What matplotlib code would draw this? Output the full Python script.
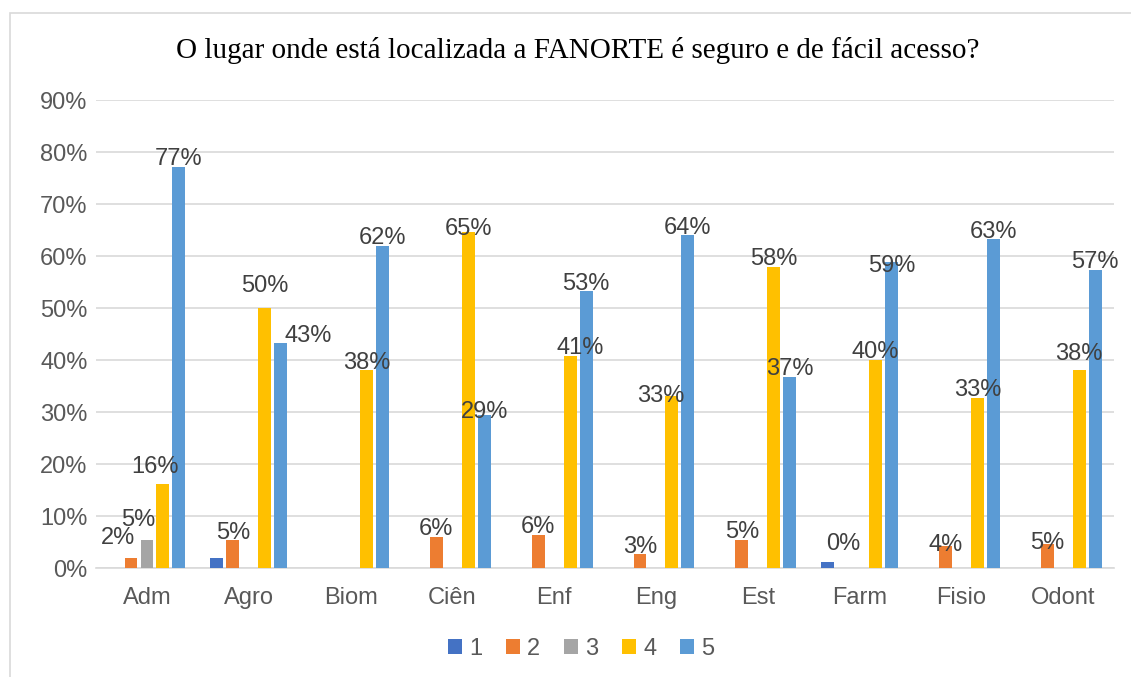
import matplotlib.pyplot as plt
from matplotlib.patches import Rectangle
import numpy as np

plt.rcParams['font.family'] = ['Liberation Sans', 'DejaVu Sans']

cursos = ["Adm", "Agro", "Biom", "Ciên", "Enf", "Eng", "Est", "Farm", "Fisio", "Odont"]
series = ["1", "2", "3", "4", "5"]

s1 = [0, 1.9, 0, 0, 0, 0, 0, 1.2, 0, 0]
s2 = [2.0, 5.3, 0, 6.0, 6.3, 2.6, 5.4, 0, 4.2, 4.7]
s3 = [5.4, 0, 0, 0, 0, 0, 0, 0, 0, 0]
s4 = [16.2, 50.0, 38.0, 64.7, 40.8, 33.1, 58.0, 40.0, 32.8, 38.0]
s5 = [77.1, 43.2, 62.0, 29.4, 53.2, 64.0, 36.8, 58.8, 63.2, 57.4]

# which bars carry a data label
lab1 = [0, 0, 0, 0, 0, 0, 0, 0, 0, 0]
lab2 = [1, 1, 0, 1, 1, 1, 1, 1, 1, 1]
lab3 = [1, 0, 0, 0, 0, 0, 0, 0, 0, 0]
lab4 = [1, 1, 1, 1, 1, 1, 1, 1, 1, 1]
lab5 = [1, 1, 1, 1, 1, 1, 1, 1, 1, 1]

valores = [s1, s2, s3, s4, s5]
rotulos = [lab1, lab2, lab3, lab4, lab5]
cores = ["#4472C4", "#ED7D31", "#A5A5A5", "#FFC000", "#5B9BD5"]

# label nudges (points, dx/dy) - the labels in the original were dragged by hand
nudge = {(0, 1): (-9, 8.5), (0, 2): (-6, 9), (0, 3): (-6, 6.5),
         (1, 3): (0, 10), (1, 4): (20, 0),
         (3, 3): (0, -3.5), (3, 4): (0, -3.5),
         (4, 3): (7, 0), (5, 3): (-8, -6),
         (7, 1): (0, 12), (7, 4): (0, -8.5),
         (8, 1): (0, -5), (9, 1): (0, -5), (9, 3): (0, 6)}

fig = plt.figure(figsize=(11.31, 6.77), dpi=100)
ax = fig.add_axes([0.0849, 0.161, 0.9001, 0.691])

fig.patches.append(Rectangle((10 / 1131, -0.1), 1.2, 1 - 13 / 677 + 0.1,
                             transform=fig.transFigure, fill=False,
                             edgecolor="#D9D9D9", linewidth=1.2, zorder=0))

x = np.arange(len(cursos))
passo = 0.157
larg = 0.126
for i, (vals, cor) in enumerate(zip(valores, cores)):
    pos = x + (i - 2) * passo
    ax.bar(pos, vals, width=larg, color=cor, label=series[i], zorder=3)
    for j, v in enumerate(vals):
        if rotulos[i][j]:
            ax.annotate(f"{v:.0f}%", (pos[j], v + 1.5), xytext=nudge.get((j, i), (0, 0)),
                        textcoords="offset points", ha="center", va="center",
                        fontsize=17, color="#404040", zorder=4)

ax.set_xlim(-0.5, len(cursos) - 0.5)
ax.set_ylim(0, 90)
ax.set_yticks(np.arange(0, 91, 10))
ax.set_yticklabels([f"{t}%" for t in range(0, 91, 10)])
ax.set_xticks(x)
ax.set_xticklabels(cursos)
ax.tick_params(axis="both", length=0, labelsize=17, labelcolor="#595959")
ax.tick_params(axis="x", pad=14)
ax.tick_params(axis="y", pad=6)
ax.yaxis.grid(True, color="#D9D9D9", linewidth=1.2, zorder=0)
for s in ["top", "right", "left"]:
    ax.spines[s].set_visible(False)
ax.spines["bottom"].set_color("#D9D9D9")
ax.spines["bottom"].set_linewidth(1.2)

fig.text(578 / 1131, 1 - 50 / 677, "O lugar onde está localizada a FANORTE é seguro e de fácil acesso?",
         ha="center", va="center", fontsize=21, family="Liberation Serif", color="#000000")

leg = fig.legend(loc="center", bbox_to_anchor=(581 / 1131, 1 - 649 / 677), ncol=5, frameon=False,
                 fontsize=17, handlelength=0.6, handleheight=0.6, handletextpad=0.3,
                 columnspacing=1.0)
for t in leg.get_texts():
    t.set_color("#595959")

plt.savefig("out.png", dpi=100)
